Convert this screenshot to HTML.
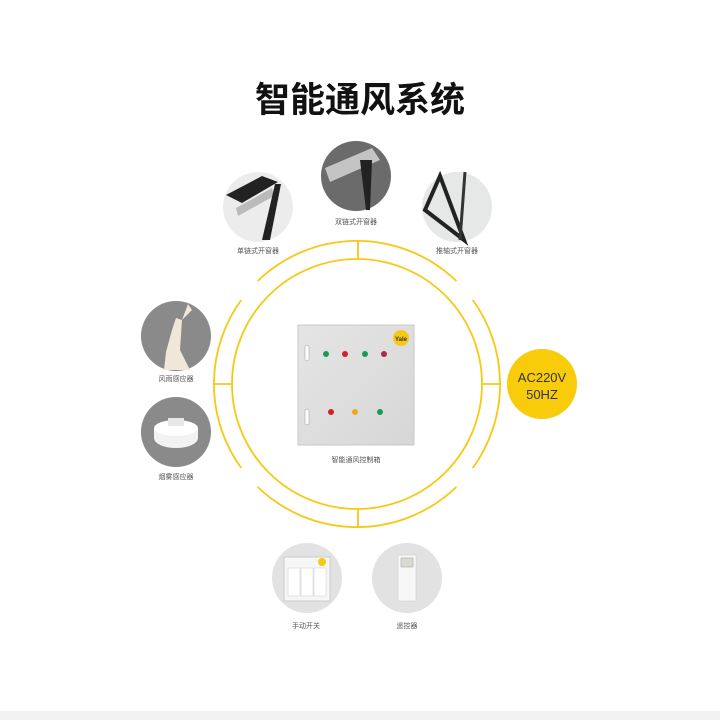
<!DOCTYPE html>
<html><head><meta charset="utf-8"><style>
html,body{margin:0;padding:0;background:#fff;}
svg{display:block}
text{font-family:"Liberation Sans","Noto Sans CJK SC",sans-serif;}
</style></head><body>
<svg width="720" height="720" viewBox="0 0 720 720" xmlns="http://www.w3.org/2000/svg">
<defs>
<linearGradient id="bx" x1="0" y1="0" x2="1" y2="1"><stop offset="0" stop-color="#e4e5e4"/><stop offset="1" stop-color="#d6d7d6"/></linearGradient>
</defs>
<rect width="720" height="720" fill="#fff"/>
<rect x="0" y="711" width="720" height="9" fill="#f2f2f2"/>
<text x="360" y="112" text-anchor="middle" font-size="35" font-weight="bold" fill="#111" style="font-family:'Noto Sans CJK SC',sans-serif">智能通风系统</text>

<g fill="none" stroke="#f6c915" stroke-width="1.8">
<circle cx="357" cy="384" r="125"/>
<path d="M257.6,281.1 A143,143 0 0 1 456.4,281.1"/>
<path d="M257.6,486.9 A143,143 0 0 0 456.4,486.9"/>
<path d="M241.3,299.9 A143,143 0 0 0 241.3,468.1"/>
<path d="M472.7,299.9 A143,143 0 0 1 472.7,468.1"/>
<line x1="358" y1="241" x2="358" y2="259"/>
<line x1="358" y1="509" x2="358" y2="527"/>
<line x1="213" y1="384" x2="232" y2="384"/>
<line x1="482" y1="384" x2="500" y2="384"/>
</g>

<circle cx="542" cy="384" r="35" fill="#f8cc0b"/>
<text x="542" y="382" text-anchor="middle" font-size="13" fill="#333">AC220V</text>
<text x="542" y="399" text-anchor="middle" font-size="13" fill="#333">50HZ</text>

<!-- control box -->
<rect x="298" y="325" width="116" height="120" fill="url(#bx)" stroke="#c8c8c8"/>
<circle cx="401" cy="338" r="8" fill="#f6c915"/>
<text x="401" y="341" text-anchor="middle" font-size="6" font-weight="bold" fill="#333">Yale</text>
<rect x="305" y="345" width="4" height="16" rx="2" fill="#fff" stroke="#999" stroke-width="0.5"/>
<rect x="305" y="409" width="4" height="16" rx="2" fill="#fff" stroke="#999" stroke-width="0.5"/>
<circle cx="326" cy="354" r="3" fill="#1a9a55"/>
<circle cx="345" cy="354" r="3" fill="#d41e2a"/>
<circle cx="365" cy="354" r="3" fill="#1a9a55"/>
<circle cx="384" cy="354" r="3" fill="#b2284a"/>
<circle cx="331" cy="412" r="3" fill="#d41e2a"/>
<circle cx="355" cy="412" r="3" fill="#f0a820"/>
<circle cx="380" cy="412" r="3" fill="#1a9a55"/>
<text x="356" y="462" text-anchor="middle" font-size="7" fill="#555">智能通风控制箱</text>

<!-- top circles -->
<circle cx="258" cy="207" r="35" fill="#ececec"/>
<path d="M226,195 L262,176 L278,182 L242,203 Z" fill="#222"/>
<path d="M236,208 L272,188 L274,196 L238,216 Z" fill="#bbb"/>
<path d="M262,240 L275,184 L281,184 L270,240 Z" fill="#222"/>
<text x="258" y="253" text-anchor="middle" font-size="7" fill="#555">单链式开窗器</text>

<circle cx="356" cy="176" r="35" fill="#6b6b6b"/>
<path d="M325,168 L372,148 L380,160 L330,182 Z" fill="#c4c4c4"/>
<path d="M360,160 L366,210 L370,210 L372,160 Z" fill="#222"/>
<text x="356" y="224" text-anchor="middle" font-size="7" fill="#555">双链式开窗器</text>

<circle cx="457" cy="207" r="35" fill="#e6e8e8"/>
<path d="M425,210 L440,176 L464,240 Z" fill="none" stroke="#222" stroke-width="4"/>
<path d="M465,172 L460,240" stroke="#333" stroke-width="3"/>
<text x="457" y="253" text-anchor="middle" font-size="7" fill="#555">推轴式开窗器</text>

<!-- left circles -->
<circle cx="176" cy="336" r="35" fill="#8a8a8a"/>
<path d="M164,370 L166,352 L172,330 L176,318 L182,320 L180,350 L190,370 Z" fill="#efe7d8"/>
<path d="M182,320 L188,304 L192,310 Z" fill="#efe7d8"/>
<text x="176" y="381" text-anchor="middle" font-size="7" fill="#555">风雨感应器</text>

<circle cx="176" cy="432" r="35" fill="#8a8a8a"/>
<ellipse cx="176" cy="438" rx="22" ry="10" fill="#f2f2f2"/>
<rect x="154" y="428" width="44" height="10" fill="#f2f2f2"/>
<ellipse cx="176" cy="428" rx="22" ry="8" fill="#fff"/>
<rect x="168" y="418" width="16" height="8" fill="#e8e8e8"/>
<text x="176" y="479" text-anchor="middle" font-size="7" fill="#555">烟雾感应器</text>

<!-- bottom circles -->
<circle cx="307" cy="578" r="35" fill="#e2e2e2"/>
<rect x="284" y="557" width="46" height="44" fill="#f6f6f6" stroke="#ccc"/>
<rect x="288" y="568" width="12" height="28" fill="#fff" stroke="#ccc" stroke-width="0.5"/>
<rect x="301" y="568" width="12" height="28" fill="#fff" stroke="#ccc" stroke-width="0.5"/>
<rect x="314" y="568" width="12" height="28" fill="#fff" stroke="#ccc" stroke-width="0.5"/>
<circle cx="322" cy="562" r="4" fill="#f6c915"/>
<text x="306" y="628" text-anchor="middle" font-size="7" fill="#555">手动开关</text>

<circle cx="407" cy="578" r="35" fill="#e2e2e2"/>
<rect x="398" y="555" width="18" height="46" fill="#f7f7f7" stroke="#ccc" stroke-width="0.5"/>
<rect x="401" y="558" width="12" height="9" fill="#d8dcd0" stroke="#999" stroke-width="0.5"/>
<text x="407" y="628" text-anchor="middle" font-size="7" fill="#555">遥控器</text>
</svg>
</body></html>
